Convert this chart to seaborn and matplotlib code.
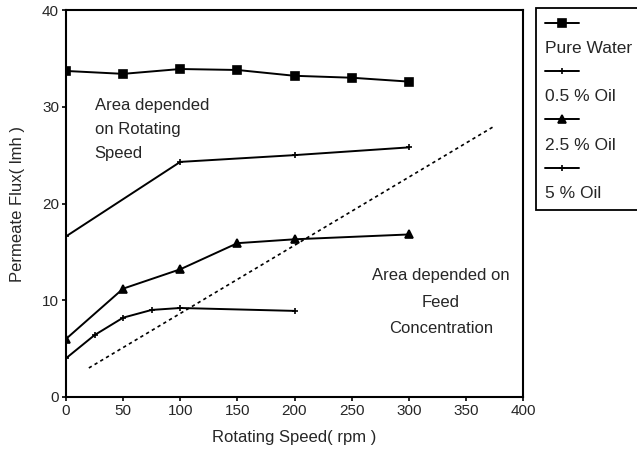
import matplotlib
matplotlib.use("Agg")
import matplotlib.pyplot as plt
import seaborn as sns
import pandas as pd
from matplotlib.lines import Line2D

# data
speed_water = [0, 50, 100, 150, 200, 250, 300]
flux_water = [33.7, 33.4, 33.9, 33.8, 33.2, 33.0, 32.6]

speed_05 = [0, 100, 200, 300]
flux_05 = [16.6, 24.3, 25.0, 25.8]

speed_25 = [0, 50, 100, 150, 200, 300]
flux_25 = [6.0, 11.2, 13.2, 15.9, 16.3, 16.8]

speed_5 = [0, 25, 50, 75, 100, 200]
flux_5 = [4.0, 6.4, 8.2, 9.0, 9.2, 8.9]

divider_x = [20, 375]
divider_y = [3.0, 28.0]

series = ["Pure Water", "0.5 % Oil", "2.5 % Oil", "5 % Oil"]
markers = {"Pure Water": "s", "0.5 % Oil": "+", "2.5 % Oil": "^", "5 % Oil": "+"}
msizes = {"Pure Water": 5.5, "0.5 % Oil": 5, "2.5 % Oil": 5.5, "5 % Oil": 5}

frames = []
for name, xs, ys in zip(series, [speed_water, speed_05, speed_25, speed_5],
                        [flux_water, flux_05, flux_25, flux_5]):
    frames.append(pd.DataFrame({"speed": xs, "flux": ys, "series": name}))
df = pd.concat(frames, ignore_index=True)

sns.set_style("ticks")
plt.rcParams["font.family"] = ["Liberation Sans", "DejaVu Sans"]

fig = plt.figure(figsize=(6.37, 4.49), dpi=100)
ax = fig.add_axes([66/637, 52/449, (523-66)/637, (397-10)/449])

handles = []
for name in series:
    sub = df[df["series"] == name]
    sns.lineplot(data=sub, x="speed", y="flux", ax=ax, color="black",
                 marker=markers[name], markersize=msizes[name], linewidth=1.4,
                 markeredgecolor="black", markeredgewidth=1.2, legend=False)
    handles.append(Line2D([], [], color="black", marker=markers[name],
                          markersize=msizes[name], linewidth=1.4,
                          markeredgewidth=1.2))

ax.plot(divider_x, divider_y, linestyle=(0, (2, 2)), color="black", linewidth=1.2)

ax.set_xlim(0, 400)
ax.set_ylim(0, 40)
ax.set_xticks(range(0, 401, 50))
ax.set_yticks([0, 10, 20, 30, 40])
ax.tick_params(labelsize=11, length=3, width=1.2, color="black", pad=2)
for s in ax.spines.values():
    s.set_linewidth(1.5)
    s.set_color("black")
ax.set_xlabel("Rotating Speed( rpm )", fontsize=12, labelpad=9)
ax.set_ylabel("Permeate Flux( lmh )", fontsize=12, labelpad=12)

ax.text(25, 27.6, "Area depended\non Rotating\nSpeed", fontsize=12,
        va="center", ha="left", linespacing=1.75)
ax.text(328, 9.8, "Area depended on\nFeed\nConcentration", fontsize=12,
        va="center", ha="center", multialignment="center", linespacing=1.95)

# legend: marker line on one row, its label on the row below
blank = Line2D([], [], linestyle="none")
leg_handles, leg_labels = [], []
for h, name in zip(handles, series):
    leg_handles += [h, blank]
    leg_labels += ["", name]
leg = fig.legend(leg_handles, leg_labels, loc="upper left",
                 bbox_to_anchor=(536/637, 1 - 8/449), borderaxespad=0,
                 fontsize=12.5, handlelength=2.0, handletextpad=-2.0,
                 labelspacing=0.52, borderpad=0.5, fancybox=False,
                 framealpha=1, edgecolor="black")
leg.get_frame().set_linewidth(1.3)

fig.savefig("out.png", dpi=100)
